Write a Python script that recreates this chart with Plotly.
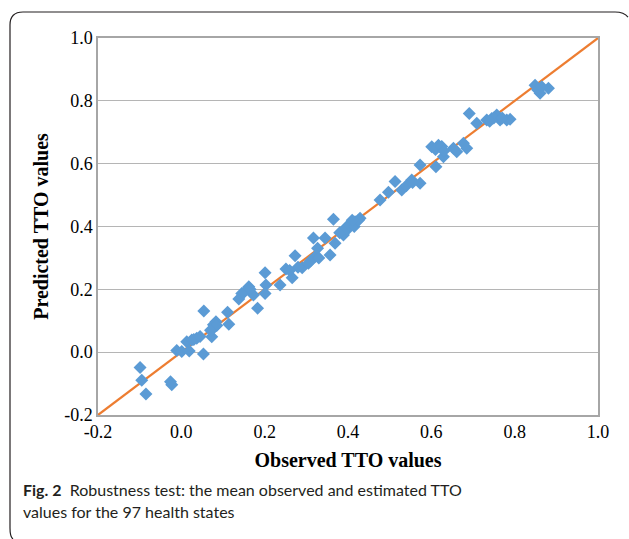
import plotly.graph_objects as go

# ---- data ----
observed = [
    -0.099, -0.095, -0.085, -0.026, -0.023, -0.011, 0.001, 0.013, 0.019, 0.025,
    0.037, 0.053, 0.054, 0.073, 0.077, 0.083, 0.077, 0.111, 0.114, 0.145,
    0.138, 0.162, 0.173, 0.183, 0.201, 0.203, 0.201, 0.237, 0.251, 0.266,
    0.273, 0.290, 0.305, 0.321, 0.317, 0.327, 0.345, 0.357, 0.369, 0.389,
    0.401, 0.365, 0.397, 0.417, 0.429, 0.477, 0.497, 0.513, 0.529, 0.553,
    0.573, 0.573, 0.611, 0.601, 0.617, 0.629, 0.653, 0.661, 0.677, 0.685,
    0.691, 0.709, 0.733, 0.745, 0.757, 0.765, 0.781, 0.849, 0.861, 0.881,
    0.789, 0.030, 0.045, 0.085, 0.070, 0.150, 0.165, 0.280, 0.260, 0.310,
    0.330, 0.380, 0.395, 0.405, 0.415, 0.425, 0.410, 0.540, 0.555, 0.610,
    0.625, 0.630, 0.750, 0.770, 0.740, 0.855, 0.865,
]
predicted = [
    -0.049, -0.089, -0.133, -0.094, -0.104, 0.005, 0.002, 0.033, 0.004, 0.039,
    0.044, -0.006, 0.131, 0.049, 0.076, 0.097, 0.087, 0.127, 0.089, 0.187,
    0.169, 0.208, 0.182, 0.140, 0.253, 0.214, 0.187, 0.214, 0.265, 0.237,
    0.307, 0.269, 0.283, 0.304, 0.363, 0.331, 0.363, 0.309, 0.347, 0.373,
    0.394, 0.423, 0.399, 0.415, 0.426, 0.484, 0.509, 0.543, 0.516, 0.548,
    0.596, 0.538, 0.590, 0.654, 0.659, 0.622, 0.649, 0.638, 0.665, 0.649,
    0.760, 0.729, 0.739, 0.744, 0.755, 0.739, 0.739, 0.850, 0.824, 0.840,
    0.741, 0.040, 0.050, 0.085, 0.070, 0.190, 0.200, 0.270, 0.260, 0.290,
    0.300, 0.380, 0.395, 0.405, 0.400, 0.420, 0.420, 0.530, 0.540, 0.645,
    0.655, 0.640, 0.745, 0.745, 0.735, 0.835, 0.845,
]
ref_line_x = [-0.2, 1.0]
ref_line_y = [-0.2, 1.0]

tick_vals = [-0.2, 0.0, 0.2, 0.4, 0.6, 0.8, 1.0]
tick_text = ["-0.2", "0.0", "0.2", "0.4", "0.6", "0.8", "1.0"]

x_title = "Observed TTO values"
y_title = "Predicted TTO values"
caption_lines = [
    "<b>Fig. 2</b>  Robustness test: the mean observed and estimated TTO",
    "values for the 97 health states",
]

# ---- layout geometry (pixels) ----
W, H = 629, 539
L, R, T, B = 98, 31, 38, 124
PW, PH = W - L - R, H - T - B


def px(x):
    return (x - L) / PW


def py(y):
    return (H - B - y) / PH


fig = go.Figure()
fig.add_trace(go.Scatter(
    x=ref_line_x, y=ref_line_y, mode="lines",
    line=dict(color="#ED7D31", width=2.2), hoverinfo="skip", showlegend=False,
))
fig.add_trace(go.Scatter(
    x=observed, y=predicted, mode="markers",
    marker=dict(symbol="diamond", size=10, color="#5B9BD5", line=dict(width=0)),
    showlegend=False,
))

serif = "Liberation Serif, Times New Roman, serif"

fig.update_xaxes(
    range=[-0.2, 1.0], tickvals=tick_vals, ticktext=tick_text,
    showgrid=False, zeroline=False, showline=True, linecolor="#A6A6A6",
    linewidth=1.5, mirror=True, ticks="",
    tickfont=dict(family=serif, size=18, color="#000000"),
    title=dict(text="<b>" + x_title + "</b>", standoff=12,
               font=dict(family=serif, size=20, color="#000000")),
)
fig.update_yaxes(
    range=[-0.2, 1.0], tickvals=tick_vals, ticktext=tick_text,
    showgrid=True, gridcolor="#B5B5B5", gridwidth=1,
    zeroline=False, showline=True, linecolor="#A6A6A6",
    linewidth=1.5, mirror=True, ticks="",
    tickfont=dict(family=serif, size=18, color="#000000"),
    title=dict(text="<b>" + y_title + "</b>", standoff=10,
               font=dict(family=serif, size=20, color="#000000")),
)

frame_pts = [
    ("M", 13, 539), ("Q", 10, 537), ("", 10, 528), ("L", 10, 25),
    ("Q", 10, 12), ("", 23, 12), ("L", 615, 12), ("Q", 624, 12), ("", 628, 17),
]
path = ""
for cmd, a, b in frame_pts:
    path += f"{cmd} {px(a):.5f},{py(b):.5f} "

fig.add_shape(type="path", xref="paper", yref="paper", path=path.strip(),
              line=dict(color="#231F20", width=1.2))

for line_text, y_mid in zip(caption_lines, [489, 512]):
    fig.add_annotation(
        xref="paper", yref="paper", x=px(21), y=py(y_mid),
        xanchor="left", yanchor="middle",
        text=line_text, showarrow=False, align="left",
        font=dict(family="Lato, Roboto, sans-serif", size=16, color="#231F20"),
    )

fig.update_layout(
    width=W, height=H,
    margin=dict(l=L, r=R, t=T, b=B),
    paper_bgcolor="white", plot_bgcolor="white",
)

fig.write_html(
    "out.html",
    config={"displayModeBar": False},
    post_script="document.body.style.margin='0';document.body.style.overflow='hidden';",
)
